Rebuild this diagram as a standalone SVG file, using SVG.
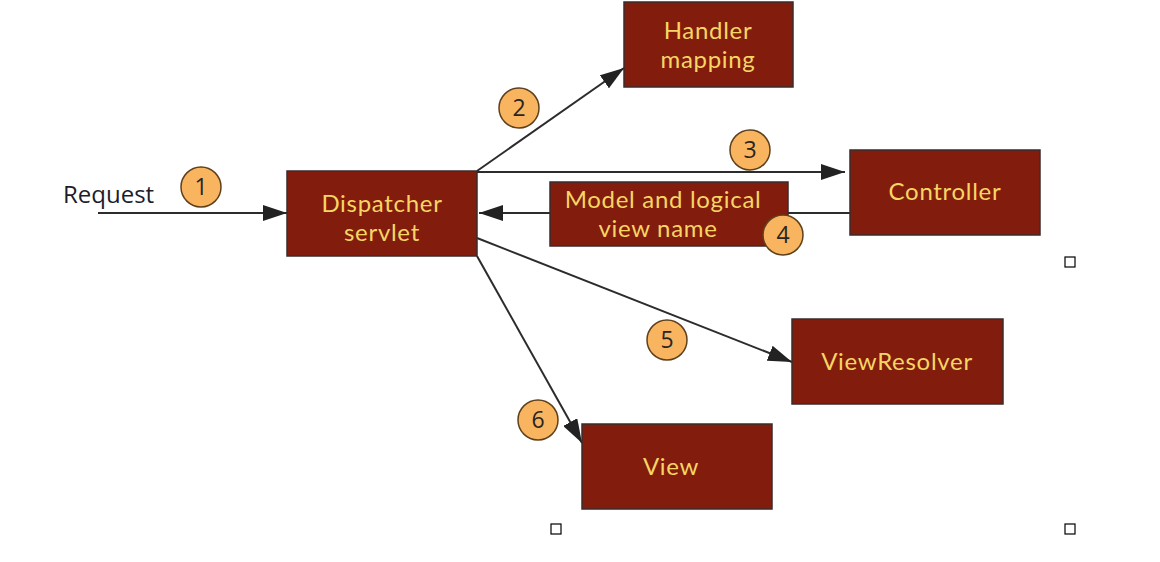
<svg xmlns="http://www.w3.org/2000/svg" width="1160" height="562" viewBox="0 0 1160 562">
<style>
.box{fill:#821c0c;stroke:#3b2b2b;stroke-width:1.5}
.lbl{font-family:Lato,"Open Sans","Liberation Sans",sans-serif;font-size:24px;letter-spacing:0.7px;fill:#f6d564;text-anchor:middle}
.num{fill:#f9b460;stroke:#5e401c;stroke-width:1.5}
.numt{font-family:"Open Sans","Liberation Sans",sans-serif;font-size:23px;fill:#2a2520;text-anchor:middle}
.ln{stroke:#2c2c2c;stroke-width:2;fill:none;marker-end:url(#ah)}
.hd{fill:#fff;stroke:#000;stroke-width:1.2}
</style>
<defs>
<marker id="ah" markerUnits="userSpaceOnUse" markerWidth="24" markerHeight="16" refX="24" refY="8" orient="auto" viewBox="0 0 24 16">
<path d="M0,0 L24,8 L0,16 z" fill="#222"/>
</marker>
</defs>
<rect width="1160" height="562" fill="#fff"/>
<g id="connectors">
<line class="ln" x1="98" y1="213" x2="287" y2="213"/>
<line class="ln" x1="477" y1="171" x2="624" y2="68"/>
<line class="ln" x1="477" y1="172" x2="845" y2="172"/>
<line class="ln" x1="850" y1="213" x2="479" y2="213"/>
<line class="ln" x1="477" y1="238" x2="792" y2="362"/>
<line class="ln" x1="477" y1="256" x2="582" y2="443"/>
</g>
<g id="request">
<text x="63" y="203" font-family="Open Sans, Liberation Sans, sans-serif" font-size="24" fill="#1c1c2c">Request</text>
</g>
<g id="dispatcher">
<rect class="box" x="287" y="171" width="190" height="85"/>
<text class="lbl" x="382" y="212">Dispatcher</text>
<text class="lbl" x="382" y="241">servlet</text>
</g>
<g id="handler">
<rect class="box" x="624" y="2" width="169" height="85"/>
<text class="lbl" x="708" y="39">Handler</text>
<text class="lbl" x="708" y="68">mapping</text>
</g>
<g id="controller">
<rect class="box" x="850" y="150" width="190" height="85"/>
<text class="lbl" x="945" y="200">Controller</text>
</g>
<g id="model">
<rect class="box" x="550" y="182" width="238" height="64"/>
<text class="lbl" x="663" y="208">Model and logical</text>
<text class="lbl" x="658" y="237">view name</text>
</g>
<g id="viewresolver">
<rect class="box" x="792" y="319" width="211" height="85"/>
<text class="lbl" x="897" y="370">ViewResolver</text>
</g>
<g id="view">
<rect class="box" x="582" y="424" width="190" height="85"/>
<text class="lbl" x="671" y="475">View</text>
</g>
<g id="n1"><circle class="num" cx="201" cy="187" r="20"/><text class="numt" x="201" y="195">1</text></g>
<g id="n2"><circle class="num" cx="519" cy="108" r="20"/><text class="numt" x="519" y="116">2</text></g>
<g id="n3"><circle class="num" cx="750" cy="150" r="20"/><text class="numt" x="750" y="158">3</text></g>
<g id="n4"><circle class="num" cx="783" cy="235" r="20"/><text class="numt" x="783" y="243">4</text></g>
<g id="n5"><circle class="num" cx="667" cy="340" r="20"/><text class="numt" x="667" y="348">5</text></g>
<g id="n6"><circle class="num" cx="538" cy="420" r="20"/><text class="numt" x="538" y="428">6</text></g>
<g id="handles">
<rect class="hd" x="1065" y="257" width="10" height="10"/>
<rect class="hd" x="551" y="524" width="10" height="10"/>
<rect class="hd" x="1065" y="524" width="10" height="10"/>
</g>
</svg>
